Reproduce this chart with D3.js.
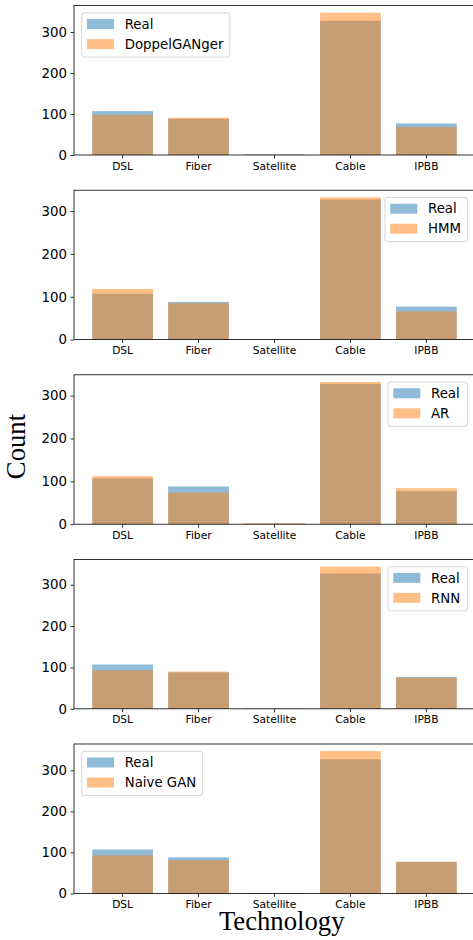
<!DOCTYPE html>
<html>
<head>
<meta charset="utf-8">
<script src="https://cdn.jsdelivr.net/npm/d3@7"></script>
<style>
  html, body { margin: 0; padding: 0; background: #fff; }
  svg { display: block; }
</style>
</head>
<body>
<svg id="chart" width="473" height="940"></svg>
<script>
// ---------------- data ----------------
const categories = ["DSL", "Fiber", "Satellite", "Cable", "IPBB"];
const realCounts = [107, 88, 1, 327, 77];
const modelNames = ["DoppelGANger", "HMM", "AR", "RNN", "Naive GAN"];
const doppelganger = [98, 91, 1, 347, 68];
const hmm = [118, 85, 0, 332, 66];
const ar = [112, 74, 2, 332, 84];
const rnn = [93, 90, 0, 344, 75];
const naiveGan = [93, 81, 0, 347, 77];
const yTickValues = [0, 100, 200, 300];
const realLabel = "Real";
const xAxisTitle = "Technology";
const yAxisTitle = "Count";

const modelSeries = [doppelganger, hmm, ar, rnn, naiveGan];
const legendCorners = ["left", "right", "right", "right", "left"];

// ---------------- layout ----------------
const svg = d3.select("#chart");
const left = 74, right = 475;
const panelTop0 = 5.6, panelStep = 184.6, panelH = 149.4;
const blue = "#1f77b4", orange = "#ff7f0e";
const tickFont = "'DejaVu Sans', sans-serif";

const x = d3.scaleBand().domain(categories).range([left, right])
  .paddingInner(0.2).paddingOuter(0.24);

modelSeries.forEach((vals, i) => {
  const top = panelTop0 + i * panelStep;
  const bottom = top + panelH;
  const ymax = d3.max(realCounts.concat(vals)) * 1.05;
  const y = d3.scaleLinear().domain([0, ymax]).range([bottom, top]);
  const g = svg.append("g");

  // bars
  g.selectAll("rect.real").data(categories).join("rect")
    .attr("x", d => x(d)).attr("width", x.bandwidth())
    .attr("y", (d, j) => y(realCounts[j]))
    .attr("height", (d, j) => y(0) - y(realCounts[j]))
    .attr("fill", blue).attr("fill-opacity", 0.5);
  g.selectAll("rect.model").data(categories).join("rect")
    .attr("x", d => x(d)).attr("width", x.bandwidth())
    .attr("y", (d, j) => y(vals[j]))
    .attr("height", (d, j) => y(0) - y(vals[j]))
    .attr("fill", orange).attr("fill-opacity", 0.5);

  // axes
  const yAxis = d3.axisLeft(y).tickValues(yTickValues).tickSize(3.5).tickPadding(3.5);
  const ya = g.append("g").attr("transform", `translate(${left},0)`).call(yAxis);
  ya.select(".domain").remove();
  ya.selectAll("line").attr("stroke", "#000").attr("stroke-width", 0.8);
  ya.selectAll("text").attr("font-family", tickFont).attr("font-size", 13.33).attr("fill", "#000");

  const xAxis = d3.axisBottom(x).tickSize(3.5).tickPadding(3.5);
  const xa = g.append("g").attr("transform", `translate(0,${bottom})`).call(xAxis);
  xa.select(".domain").remove();
  xa.selectAll("line").attr("stroke", "#000").attr("stroke-width", 0.8);
  xa.selectAll("text").attr("font-family", tickFont).attr("font-size", 10.67).attr("fill", "#000");

  // spines
  g.append("rect").attr("x", left).attr("y", top).attr("width", right - left).attr("height", panelH)
    .attr("fill", "none").attr("stroke", "#000").attr("stroke-width", 0.8);

  // legend
  const lg = g.append("g");
  const labels = [realLabel, modelNames[i]];
  const colors = [blue, orange];
  const tmp = lg.append("text").attr("font-family", tickFont).attr("font-size", 13.33).text(modelNames[i]);
  const tw = Math.max(tmp.node().getComputedTextLength(), 30);
  tmp.remove();
  const lw = 5.3 + 27 + 10.7 + tw + 6.3;
  const lh = 44.3;
  const lx = legendCorners[i] === "left" ? left + 7.7 : right - 7.7 - lw;
  const ly = top + 7.2;
  lg.append("rect").attr("x", lx).attr("y", ly).attr("width", lw).attr("height", lh)
    .attr("rx", 2.7).attr("ry", 2.7)
    .attr("fill", "#fff").attr("fill-opacity", 0.8)
    .attr("stroke", "#cccccc").attr("stroke-opacity", 0.8).attr("stroke-width", 1);
  labels.forEach((lab, k) => {
    const cy = ly + 11.3 + k * 20;
    lg.append("rect").attr("x", lx + 5.3).attr("y", cy - 5).attr("width", 27).attr("height", 10)
      .attr("fill", colors[k]).attr("fill-opacity", 0.5);
    lg.append("text").attr("x", lx + 43).attr("y", cy + 4.6)
      .attr("font-family", tickFont).attr("font-size", 13.33).attr("fill", "#000").text(lab);
  });
});

// axis titles
svg.append("text").attr("transform", "translate(25,446.5) rotate(-90)")
  .attr("text-anchor", "middle").attr("font-family", "'Liberation Serif', serif")
  .attr("font-size", 26.7).attr("fill", "#000").text(yAxisTitle);
svg.append("text").attr("x", 281.7).attr("y", 930)
  .attr("text-anchor", "middle").attr("font-family", "'Liberation Serif', serif")
  .attr("font-size", 26.7).attr("fill", "#000").text(xAxisTitle);
</script>
</body>
</html>
